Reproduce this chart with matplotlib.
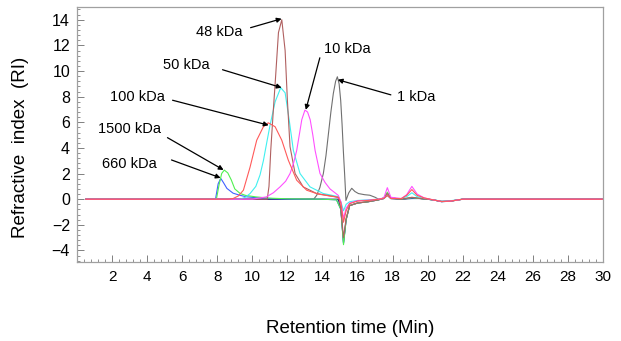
import matplotlib

matplotlib.use("Agg")
import matplotlib.pyplot as plt
from matplotlib.ticker import MultipleLocator

plt.rcParams["font.family"] = ["Liberation Sans", "DejaVu Sans"]

# %%
# Chromatogram traces: retention time [min], RI [-].

t_660 = [0.5, 7.9, 8.05, 8.2, 8.35, 8.55, 8.9, 9.3, 9.7, 10.5, 11.5, 12.5,
         14.0, 14.8, 15.05, 15.2, 15.35, 15.55, 16.0, 16.6, 17.2, 17.5, 17.7,
         17.9, 18.5, 19.1, 19.6, 20.3, 20.8, 21.3, 22.0, 30.0]
ri_660 = [0, 0, 1.2, 1.62, 1.3, 0.84, 0.47, 0.3, 0.18, 0.08, 0.03, 0.0,
          0.0, -0.05, -0.8, -3.45, -1.6, -0.5, -0.3, -0.2, -0.05, 0.1, 0.4,
          0.1, 0.0, 0.1, 0.05, -0.05, -0.18, -0.15, 0, 0]

t_1500 = [0.5, 7.95, 8.1, 8.25, 8.4, 8.6, 8.8, 9.0, 9.3, 9.6, 10.2, 11.0,
          12.0, 14.0, 14.8, 15.05, 15.2, 15.35, 15.55, 16.0, 16.6, 17.2, 17.5,
          17.7, 17.9, 18.5, 19.1, 19.6, 20.3, 20.8, 21.3, 22.0, 30.0]
ri_1500 = [0, 0, 1.1, 2.0, 2.27, 2.05, 1.5, 0.8, 0.45, 0.3, 0.18, 0.08,
           0.03, 0.0, -0.05, -0.8, -3.55, -1.6, -0.5, -0.3, -0.2, -0.05, 0.1,
           0.55, 0.1, 0.0, 0.12, 0.05, -0.05, -0.18, -0.15, 0, 0]

t_100 = [0.5, 8.6, 8.9, 9.2, 9.49, 9.87, 10.25, 10.63, 10.91, 11.3, 11.68,
         12.05, 12.53, 13.1, 13.75, 14.4, 14.9, 15.05, 15.2, 15.35, 15.55,
         16.0, 16.6, 17.2, 17.5, 17.7, 17.9, 18.5, 18.8, 19.1, 19.4, 19.8,
         20.3, 20.8, 21.3, 22.0, 30.0]
ri_100 = [0, 0, 0.05, 0.25, 0.7, 2.5, 4.6, 5.65, 5.96, 5.65, 4.6, 3.05, 1.48,
          0.7, 0.4, 0.25, 0.15, -0.3, -1.8, -0.9, -0.35, -0.15, -0.1, 0.0,
          0.05, 0.3, 0.05, 0.05, 0.3, 0.75, 0.3, 0.1, -0.05, -0.18, -0.15,
          0, 0]

t_50 = [0.5, 9.3, 9.6, 9.87, 10.2, 10.44, 10.63, 10.82, 11.0, 11.3, 11.62,
        11.87, 12.1, 12.34, 12.72, 13.29, 14.05, 14.9, 15.05, 15.2, 15.35,
        15.55, 16.0, 16.6, 17.2, 17.5, 17.7, 17.9, 18.5, 18.8, 19.1, 19.4,
        19.8, 20.3, 20.8, 21.3, 22.0, 30.0]
ri_50 = [0, 0, 0.15, 0.44, 1.0, 1.9, 3.0, 4.4, 5.7, 7.6, 8.7, 8.3, 6.2, 3.8,
         2.0, 0.96, 0.44, 0.2, -0.2, -0.9, -0.4, -0.2, -0.1, -0.05, 0.0,
         0.05, 0.35, 0.05, 0.05, 0.2, 0.5, 0.2, 0.05, -0.05, -0.15, -0.12,
         0, 0]

t_48 = [0.5, 10.85, 10.95, 11.05, 11.2, 11.3, 11.49, 11.68, 11.87, 12.0,
        12.15, 12.44, 12.9, 13.67, 14.7, 14.95, 15.05, 15.2, 15.35, 15.55,
        16.0, 16.6, 17.2, 17.5, 17.7, 17.9, 18.5, 19.1, 19.6, 20.3, 20.8,
        21.3, 22.0, 30.0]
ri_48 = [0, 0, 1.0, 3.8, 7.0, 9.0, 13.0, 14.0, 11.6, 7.7, 4.1, 2.0, 0.96,
         0.44, 0.2, 0.1, -0.8, -3.0, -1.5, -0.5, -0.3, -0.2, -0.05, 0.1,
         0.45, 0.1, 0.0, 0.15, 0.05, -0.05, -0.18, -0.15, 0, 0]

t_10 = [0.5, 10.0, 10.8, 11.2, 11.58, 11.9, 12.15, 12.35, 12.53, 12.7, 12.82,
        13.0, 13.15, 13.3, 13.45, 13.58, 13.86, 14.15, 14.43, 14.9, 15.05,
        15.2, 15.35, 15.55, 16.0, 16.6, 17.2, 17.5, 17.7, 17.9, 18.5, 18.8,
        19.1, 19.4, 19.8, 20.3, 20.8, 21.3, 22.0, 30.0]
ri_10 = [0, 0, 0.18, 0.5, 0.96, 1.4, 2.0, 2.8, 3.8, 5.2, 6.2, 6.95, 6.8, 6.2,
         5.0, 3.8, 2.0, 1.3, 0.8, 0.3, -0.2, -1.5, -0.7, -0.3, -0.12, -0.08,
         0.0, 0.1, 0.9, 0.15, 0.05, 0.35, 1.0, 0.4, 0.1, -0.05, -0.18, -0.15,
         0, 0]

t_1 = [0.5, 13.5, 13.67, 13.85, 14.05, 14.2, 14.34, 14.48, 14.62, 14.75,
       14.85, 14.95, 15.04, 15.12, 15.19, 15.27, 15.34, 15.5, 15.67, 15.85,
       16.05, 16.4, 16.7, 17.0, 17.2, 17.5, 17.7, 17.9, 18.5, 19.1, 19.6,
       20.3, 20.8, 21.3, 22.0, 30.0]
ri_1 = [0, 0, 0.3, 0.9, 2.0, 3.4, 5.1, 6.8, 8.25, 9.2, 9.55, 9.0, 7.7, 5.8,
        3.8, 1.8, -0.1, 0.5, 0.85, 0.6, 0.44, 0.35, 0.31, 0.15, 0.0, 0.05,
        0.4, 0.05, 0.0, 0.1, 0.05, -0.05, -0.18, -0.15, 0, 0]

t_blank = [0.5, 14.9, 15.05, 15.2, 15.35, 15.55, 16.0, 16.6, 17.2, 17.5,
           17.7, 17.9, 18.5, 19.1, 19.6, 20.3, 20.8, 21.3, 22.0, 30.0]
ri_blank = [0, 0, -0.8, -3.4, -1.6, -0.5, -0.3, -0.2, -0.05, 0.05, 0.3,
            0.05, 0.0, 0.05, 0.05, -0.05, -0.2, -0.15, 0, 0]

# Labels: text, peak (arrow tip), arrow tail, text centre.
labels = ["48 kDa", "50 kDa", "100 kDa", "1500 kDa", "660 kDa", "10 kDa",
          "1 kDa"]
tips = [(11.67, 14.08), (11.67, 8.7), (10.93, 5.77), (8.36, 2.28),
        (8.19, 1.66), (13.05, 6.97), (14.87, 9.32)]
tails = [(9.9, 13.38), (8.3, 10.1), (5.45, 7.72), (5.16, 4.8), (5.39, 3.06),
         (13.85, 11.03), (17.9, 8.14)]
text_pos = [(8.13, 13.05), (6.22, 10.48), (3.45, 8.0), (3.02, 5.5),
            (3.0, 2.78), (15.4, 11.73), (19.33, 8.0)]

# %%
# Plot.

fig = plt.figure(figsize=(6.21, 3.41), dpi=100)
ax = fig.add_axes([0.124, 0.2317, 0.847, 0.748])

traces = [
    (t_1, ri_1, "#707070"),
    (t_blank, ri_blank, "#202080"),
    (t_660, ri_660, "#4060ff"),
    (t_1500, ri_1500, "#50f050"),
    (t_50, ri_50, "#40f0f0"),
    (t_48, ri_48, "#b06060"),
    (t_10, ri_10, "#ff50ff"),
    (t_100, ri_100, "#ff5a5a"),
]
for t, ri, color in traces:
    ax.plot(t, ri, color=color, lw=0.8)

for label, tip, tail, pos in zip(labels, tips, tails, text_pos):
    ax.annotate(
        "",
        xy=tip,
        xytext=tail,
        arrowprops=dict(arrowstyle="-|>", color="k", lw=0.9,
                        mutation_scale=7, shrinkA=0, shrinkB=0),
    )
    ax.text(pos[0], pos[1], label, ha="center", va="center", fontsize=10.5)

ax.set_xlim(0, 30)
ax.set_ylim(-4.9, 15.0)
ax.xaxis.set_minor_locator(MultipleLocator(0.4))
ax.yaxis.set_minor_locator(MultipleLocator(0.4))
ax.set_xticks(range(0, 31, 2))
ax.set_xticklabels([""] + [str(v) for v in range(2, 31, 2)])
ax.set_yticks(range(-4, 15, 2))
ax.set_yticklabels([f"{v}".replace("-", "\u2212") for v in range(-4, 15, 2)])
ax.tick_params(axis="both", which="major", direction="in", length=5,
               width=0.7, color="#808080", labelsize=11.5, pad=5)
ax.tick_params(axis="both", which="minor", direction="in", length=2.5,
               width=0.6, color="#808080")
ax.tick_params(axis="x", labelsize=11, pad=6)
for spine in ax.spines.values():
    spine.set_color("#a0a0a0")
    spine.set_linewidth(0.9)

ax.set_xlabel("Retention time (Min)", fontsize=13.5)
ax.xaxis.set_label_coords(0.519, -0.227)
ax.xaxis.label.set_va("top")
ax.set_ylabel("Refractive  index  (RI)", fontsize=13.5)
ax.yaxis.set_label_coords(-0.091, 0.449)

fig.savefig("out.png", dpi=100)
